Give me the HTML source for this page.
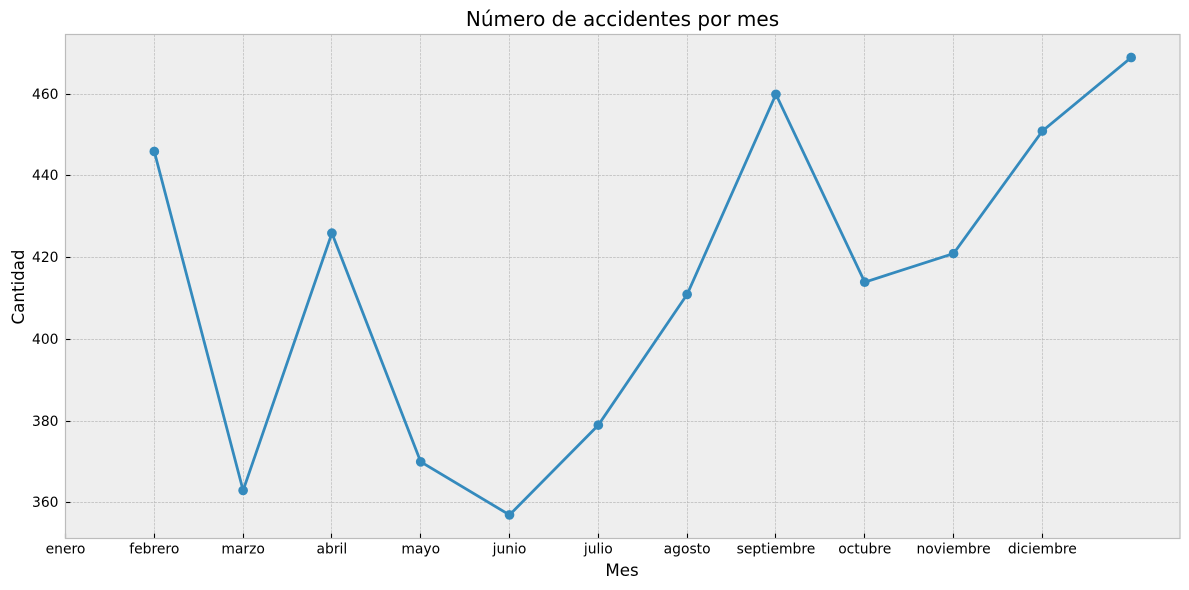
<!DOCTYPE html>
<html lang="es">
<head>
<meta charset="utf-8">
<title>Número de accidentes por mes</title>
<style>
html,body{margin:0;padding:0;background:#fff;width:1189px;height:590px;overflow:hidden}
svg{display:block}
text{font-family:"DejaVu Sans",sans-serif;fill:#000}
</style>
</head>
<body>
<svg id="chart" xmlns="http://www.w3.org/2000/svg" width="1189" height="590" viewBox="0 0 1189 590"></svg>
<script>
const tickLabels = ['enero','febrero','marzo','abril','mayo','junio','julio','agosto','septiembre','octubre','noviembre','diciembre'];
const tickPositions = [0,1,2,3,4,5,6,7,8,9,10,11];
const monthIndex = [1,2,3,4,5,6,7,8,9,10,11,12];
const accidents = [446,363,426,370,357,379,411,460,414,421,451,469];
const yTicks = [360,380,400,420,440,460];

const NS = 'http://www.w3.org/2000/svg';
const svg = document.getElementById('chart');
const plot = {left:65.5,right:1180,top:34.5,bottom:538.5};
const xMin = 0, xMax = 12.55, yMin = 351.23, yMax = 474.64;
function sx(v){return plot.left + (v-xMin)/(xMax-xMin)*(plot.right-plot.left);}
function sy(v){return plot.bottom - (v-yMin)/(yMax-yMin)*(plot.bottom-plot.top);}
function snap(v){return Math.floor(v)+0.5;}
function make(tag, attrs, parent){
  const el = document.createElementNS(NS, tag);
  for (const k in attrs) el.setAttribute(k, attrs[k]);
  (parent||svg).appendChild(el);
  return el;
}

const bg = make('rect',{x:plot.left,y:plot.top,width:plot.right-plot.left,height:plot.bottom-plot.top,fill:'#eeeeee'});



tickPositions.forEach((t,i)=>{
  const x = snap(sx(t));
  const g = make('line',{x1:x,x2:x,y1:plot.top,y2:plot.bottom,stroke:'#b2b2b2','stroke-width':0.7,'stroke-opacity':0.85,'stroke-dasharray':'2.6 1.1'});
  
  
  const tk = make('line',{x1:x,x2:x,y1:plot.bottom,y2:plot.bottom-4.9,stroke:'#000','stroke-width':1.1});
  
  
  const lb = make('text',{x:sx(t),y:553.5,'text-anchor':'middle','font-size':'13.89px'});
  lb.textContent = tickLabels[i];
  
  
});

yTicks.forEach(t=>{
  const y = snap(sy(t));
  const g = make('line',{x1:plot.left,x2:plot.right,y1:y,y2:y,stroke:'#b2b2b2','stroke-width':0.7,'stroke-opacity':0.85,'stroke-dasharray':'2.6 1.1'});
  
  
  const tk = make('line',{x1:plot.left,x2:plot.left+4.9,y1:y,y2:y,stroke:'#000','stroke-width':1.1});
  
  
  const lb = make('text',{x:58.5,y:y+4.5,'text-anchor':'end','font-size':'13.89px'});
  lb.textContent = t;
  
  
});

const frame = make('rect',{x:plot.left,y:plot.top,width:plot.right-plot.left,height:plot.bottom-plot.top,fill:'none',stroke:'#bcbcbc','stroke-width':1.2});



const line = make('polyline',{points:monthIndex.map((m,i)=>sx(m)+','+sy(accidents[i])).join(' '),fill:'none',stroke:'#348ABD','stroke-width':2.78,'stroke-linejoin':'round'});



monthIndex.forEach((m,i)=>{
  const c = make('circle',{cx:sx(m),cy:sy(accidents[i]),r:4.85,fill:'#348ABD'});
  
  
});

const title = make('text',{x:622.5,y:26,'text-anchor':'middle','font-size':'20px'});
title.textContent = 'Número de accidentes por mes';



const xTitle = make('text',{x:622,y:576,'text-anchor':'middle','font-size':'16.67px'});
xTitle.textContent = 'Mes';



const yTitle = make('text',{x:0,y:0,'text-anchor':'middle','font-size':'16.67px',transform:'translate(24,287) rotate(-90)'});
yTitle.textContent = 'Cantidad';


</script>
</body>
</html>
